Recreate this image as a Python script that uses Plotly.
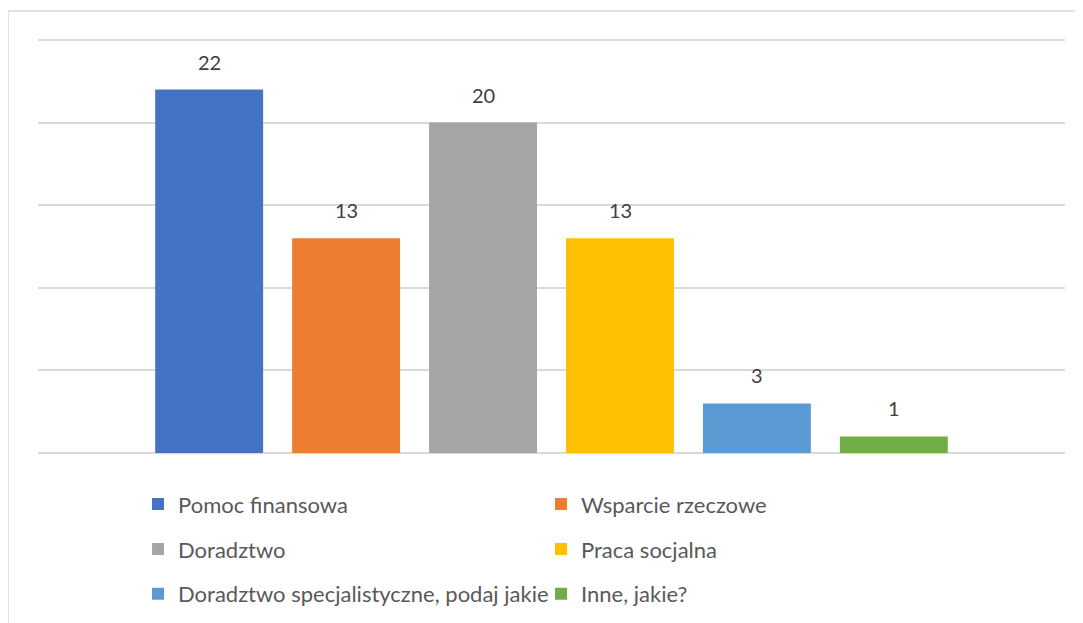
import plotly.graph_objects as go

# === Datos ===
kategorie = ["Pomoc finansowa", "Wsparcie rzeczowe", "Doradztwo", "Praca socjalna",
             "Doradztwo specjalistyczne, podaj jakie", "Inne, jakie?"]
wartosci = [22, 13, 20, 13, 3, 1]
kolory = ["#4472C4", "#ED7D31", "#A5A5A5", "#FFC000", "#5B9BD5", "#70AD47"]
legendy = ["legend", "legend", "legend2", "legend2", "legend3", "legend3"]

FONT = "Lato"

fig = go.Figure()
for nazwa, w, kol, leg in zip(kategorie, wartosci, kolory, legendy):
    fig.add_trace(go.Bar(
        x=[0], y=[w], name=nazwa,
        marker=dict(color=kol, line=dict(width=0)),
        legend=leg,
        hoverinfo="name+y",
    ))

# etykiety danych nad słupkami
for i, w in enumerate(wartosci):
    fig.add_annotation(
        x=0, y=w, xref="x", yref="y",
        text=str(w), showarrow=False,
        yanchor="bottom", yshift=14,
        xshift=(i - 2.5) * 137,
        font=dict(family=FONT, size=20, color="#404040"),
    )

leg_common = dict(
    orientation="h", xref="paper", yref="paper",
    x=0.0974, xanchor="left", yanchor="middle",
    entrywidth=358, entrywidthmode="pixels",
    itemwidth=30, itemclick=False,
    font=dict(family=FONT, size=22, color="#595959"),
    bgcolor="rgba(0,0,0,0)", tracegroupgap=0,
)

fig.update_layout(
    width=1083, height=623,
    margin=dict(l=30, r=26, t=27, b=178),
    paper_bgcolor="white", plot_bgcolor="white",
    barmode="group", bargap=0.2, bargroupgap=0.212,
    xaxis=dict(visible=False, range=[-0.5, 0.5]),
    yaxis=dict(range=[0, 25.3], tickvals=[0, 5, 10, 15, 20, 25], showticklabels=False,
               gridcolor="#D9D9D9", gridwidth=1.5,
               zeroline=True, zerolinecolor="#D9D9D9", zerolinewidth=1.5,
               fixedrange=True),
    legend=dict(y=-0.1225, **leg_common),
    legend2=dict(y=-0.2304, **leg_common),
    legend3=dict(y=-0.337, **leg_common),
    shapes=[dict(type="rect", xref="paper", yref="paper",
                 x0=-0.0292, x1=1.05, y0=-0.45, y1=1.0574,
                 line=dict(color="#D9D9D9", width=1.5), layer="below")],
    font=dict(family=FONT),
)

fig.write_html("out.html")
